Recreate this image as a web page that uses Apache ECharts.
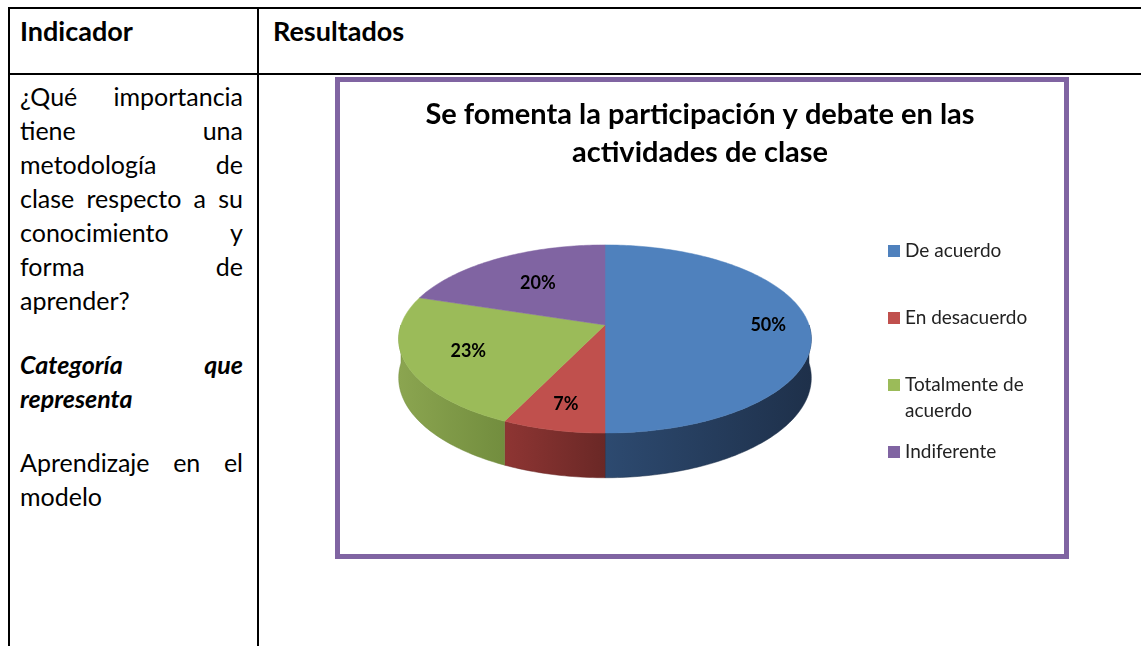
<!DOCTYPE html>
<html>
<head>
<meta charset="utf-8">
<script src="https://cdn.jsdelivr.net/npm/echarts@6/dist/echarts.min.js"></script>
<style>
  html, body { margin: 0; padding: 0; background: #fff; }
  body { width: 1141px; height: 646px; position: relative; overflow: hidden; font-family: Lato, "Noto Sans", sans-serif; color: #000; }
  .line { position: absolute; background: #000; }
  .head { position: absolute; top: 14px; font-size: 27px; font-weight: bold; line-height: 34px; }
  .para { position: absolute; left: 20px; width: 223px; font-size: 25px; line-height: 34px; }
  .para div { text-align: justify; text-align-last: justify; white-space: nowrap; }
  .para div.last { text-align-last: left; }
  .para.em { font-weight: bold; font-style: italic; }
  #chart { position: absolute; left: 0; top: 0; width: 1141px; height: 646px; }
</style>
</head>
<body>
<div class="line" style="left:8px; top:7px; width:1133px; height:2px"></div>
<div class="line" style="left:8px; top:7px; width:2px; height:639px"></div>
<div class="line" style="left:257px; top:7px; width:2px; height:639px"></div>
<div class="line" style="left:8px; top:73px; width:1133px; height:2px"></div>

<div class="head" style="left:20px">Indicador</div>
<div class="head" style="left:273px">Resultados</div>

<div class="para" style="top:79px">
  <div>¿Qué importancia</div>
  <div>tiene una</div>
  <div>metodología de</div>
  <div>clase respecto a su</div>
  <div>conocimiento y</div>
  <div>forma de</div>
  <div class="last">aprender?</div>
</div>
<div class="para em" style="top:347px">
  <div>Categoría que</div>
  <div class="last">representa</div>
</div>
<div class="para" style="top:445px">
  <div>Aprendizaje en el</div>
  <div class="last">modelo</div>
</div>

<div id="chart"></div>

<script>
// answers to the question, in percent
const categories = ['De acuerdo', 'En desacuerdo', 'Totalmente de acuerdo', 'Indiferente']
const percents = [50, 7, 23, 20]

// styling
const sliceColors = ['#4F81BD', '#C0504D', '#9BBB59', '#8064A2']
const wallColors = [
  ['#2D4A70', '#1E304A'],
  ['#8E3533', '#6A2826'],
  ['#8BA550', '#728D3E'],
  ['#6A5287', '#4F3D66']
]
const labelRadius = [0.8, 0.78, 0.7, 0.6]

// fake 3d: ellipse seen in perspective
const pie = { cx: 605, vy: 325, rx: 204, ry: 92, k: 0.149, depth: 38 }

// legend layout
const legendFont = 19
const legendLine = 26
const legendWrap = 145

const total = percents.reduce((a, b) => a + b, 0)
const startOf = percents.map((_, i) => percents.slice(0, i).reduce((a, b) => a + b, 0))

const proj = (x, z) => {
  const s = 1 / (1 + pie.k * z)
  return [pie.cx + pie.rx * x * s, pie.vy - pie.ry * z * s, s]
}

const rimPoint = (t, r = 1) => proj(r * Math.sin(t), r * Math.cos(t))

const arc = (a0, a1) => {
  const pts = []
  const steps = Math.max(2, Math.ceil((a1 - a0) / (Math.PI / 180)))
  for (let j = 0; j <= steps; j++) {
    pts.push(rimPoint(a0 + (a1 - a0) * j / steps))
  }
  return pts
}

const renderSlice = (params, api) => {
  const i = params.dataIndex
  const a0 = startOf[i] / total * Math.PI * 2
  const a1 = a0 + api.value(0) / total * Math.PI * 2
  const children = []

  // side wall, only the part facing the viewer
  const w0 = Math.max(a0, Math.PI / 2)
  const w1 = Math.min(a1, Math.PI * 1.5)
  if (w1 > w0) {
    const top = arc(w0, w1)
    const bottom = top.slice().reverse().map((p) => [p[0], p[1] + pie.depth * p[2]])
    children.push({
      type: 'polygon',
      shape: { points: top.map((p) => [p[0], p[1]]).concat(bottom) },
      style: {
        fill: new echarts.graphic.LinearGradient(0, 0, 1, 0, [
          { offset: 0, color: wallColors[i][0] },
          { offset: 1, color: wallColors[i][1] }
        ]),
        stroke: wallColors[i][1],
        lineWidth: 0.5
      }
    })
  }

  // top face
  const face = [proj(0, 0)].concat(arc(a0, a1)).map((p) => [p[0], p[1]])
  children.push({
    type: 'polygon',
    shape: { points: face },
    style: { fill: sliceColors[i], stroke: sliceColors[i], lineWidth: 0.5 }
  })

  const mid = (a0 + a1) / 2
  const lp = rimPoint(mid, labelRadius[i])
  children.push({
    type: 'text',
    x: lp[0],
    y: lp[1],
    style: {
      text: Math.round(api.value(0) / total * 100) + '%',
      fontFamily: 'Lato',
      fontWeight: 'bold',
      fontSize: 18,
      fill: '#000',
      align: 'center',
      verticalAlign: 'middle'
    }
  })

  return { type: 'group', children }
}

// how many lines a legend name breaks into
const measure = document.createElement('canvas').getContext('2d')
measure.font = legendFont + 'px Lato'
const lineCount = (name) => {
  let lines = 1
  let current = ''
  name.split(' ').forEach((word) => {
    const next = current ? current + ' ' + word : word
    if (current && measure.measureText(next).width > legendWrap) {
      lines += 1
      current = word
    } else {
      current = next
    }
  })
  return lines
}

// one legend per entry so the rows keep an even pitch; wrapped names get
// blank lines in front so the icon sits beside the first line
const legends = categories.map((name, i) => {
  const extraLines = lineCount(name) - 1
  return {
    orient: 'vertical',
    left: 888,
    top: 238 + i * 67 - extraLines * legendLine,
    padding: 0,
    itemWidth: 12,
    itemHeight: 12,
    icon: 'rect',
    selectedMode: false,
    data: [name],
    formatter: (n) => '\n'.repeat(extraLines) + n,
    textStyle: {
      fontFamily: 'Lato',
      fontSize: legendFont,
      color: '#222',
      lineHeight: legendLine,
      width: legendWrap,
      overflow: 'break'
    }
  }
})

const chart = echarts.init(document.getElementById('chart'), null, { renderer: 'canvas' })

chart.setOption({
  animation: false,
  color: sliceColors,
  graphic: [
    {
      type: 'rect',
      z: -10,
      shape: { x: 337.5, y: 79.5, width: 729, height: 477 },
      style: { fill: '#fff', stroke: '#8064A2', lineWidth: 5 }
    }
  ],
  title: {
    text: 'Se fomenta la participación y debate en las\nactividades de clase',
    left: 700,
    top: 96,
    padding: 0,
    textAlign: 'center',
    textStyle: {
      fontFamily: 'Lato',
      fontWeight: 'bold',
      fontSize: 29,
      lineHeight: 38,
      color: '#000'
    }
  },
  legend: legends,
  series: [
    {
      // only feeds the legend
      type: 'pie',
      radius: [0, 0],
      center: [605, 325],
      silent: true,
      label: { show: false },
      data: categories.map((name, i) => ({ name, value: percents[i] }))
    },
    {
      type: 'custom',
      coordinateSystem: 'none',
      silent: true,
      renderItem: renderSlice,
      data: percents.map((v) => [v])
    }
  ]
})
</script>
</body>
</html>
